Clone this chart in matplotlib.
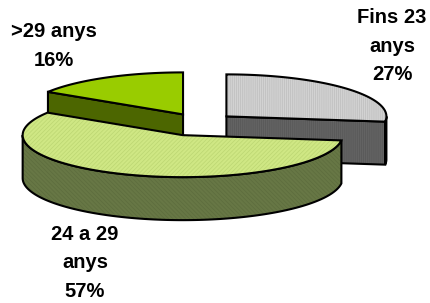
import numpy as np
import matplotlib
matplotlib.use('Agg')
import matplotlib.pyplot as plt
from matplotlib.patches import Polygon

# Data
labels = ['Fins 23\nanys\n27%', '24 a 29\nanys\n57%', '>29 anys\n16%']
values = [27, 57, 16]
explode = [0.22, 0.32, 0.22]

# Styles
top_colors = ['#D2D2D2', '#CFE784', '#99CC00']
top_hatch = ['||||||||', '////////', None]
top_hatch_colors = ['#BDBDBD', '#BCD672', None]
side_colors = ['#636363', '#677745', '#4C6600']
side_hatch = ['||||||||', '\\\\\\\\\\\\\\\\', None]
side_hatch_colors = ['#575757', '#5D6C3D', None]
label_pos = [(392, 46), (85, 263), (54, 46)]

# Projection of the pie (pixel units)
cx0, cy0 = 200, 122.5
ra, rb = 160, 42
depth = 43

plt.rcParams['hatch.linewidth'] = 0.5

fig = plt.figure(figsize=(4.31, 3.03), dpi=100)
ax = fig.add_axes([0, 0, 1, 1])
ax.set_xlim(0, 431)
ax.set_ylim(303, 0)
ax.axis('off')


def pt(cx, cy, theta, dz=0):
    t = np.radians(theta)
    return cx + ra * np.cos(t), cy - rb * np.sin(t) + dz


def arc(cx, cy, t1, t2, dz=0, n=200):
    ts = np.linspace(t1, t2, n)
    x, y = pt(cx, cy, ts, dz)
    return np.column_stack([x, y])


def face(xy, fc, hatch=None, hc=None):
    if hatch:
        ax.add_patch(Polygon(xy, closed=True, facecolor=fc, edgecolor=hc,
                             hatch=hatch, linewidth=0))
    else:
        ax.add_patch(Polygon(xy, closed=True, facecolor=fc, linewidth=0))
    ax.add_patch(Polygon(xy, closed=True, fill=False, edgecolor='black',
                         linewidth=1.5, joinstyle='miter'))


fracs = np.array(values) / np.sum(values)
starts = 90 - 360 * np.concatenate([[0], np.cumsum(fracs)[:-1]])
ends = starts - 360 * fracs

slices = []
for i in range(len(values)):
    mid = np.radians((starts[i] + ends[i]) / 2)
    cx = cx0 + ra * explode[i] * np.cos(mid)
    cy = cy0 - rb * explode[i] * np.sin(mid)
    slices.append((cy, i, cx))

# back to front
for cy, i, cx in sorted(slices):
    t1, t2 = ends[i], starts[i]
    # cut walls facing the viewer
    for t, vis in ((t1, np.cos(np.radians(t1)) > 1e-6),
                   (t2, np.cos(np.radians(t2)) < -1e-6)):
        if vis:
            px, py = pt(cx, cy, t)
            wall = [(cx, cy), (px, py), (px, py + depth), (cx, cy + depth)]
            face(wall, side_colors[i], side_hatch[i], side_hatch_colors[i])
    # outer rim on the front half
    for k in range(-2, 2):
        a1 = max(t1, -180 + 360 * k)
        a2 = min(t2, 0 + 360 * k)
        if a2 > a1:
            upper = arc(cx, cy, a1, a2)
            lower = arc(cx, cy, a2, a1, depth)
            face(np.vstack([upper, lower]), side_colors[i], side_hatch[i],
                 side_hatch_colors[i])
    # top face
    top = np.vstack([[(cx, cy)], arc(cx, cy, t1, t2)])
    face(top, top_colors[i], top_hatch[i], top_hatch_colors[i])

for i, (lx, ly) in enumerate(label_pos):
    ax.text(lx, ly, labels[i], ha='center', va='center', multialignment='center',
            fontsize=14.5, fontweight='bold', family=['Liberation Sans', 'DejaVu Sans'],
            linespacing=1.62)

fig.savefig('out.png', dpi=100)
